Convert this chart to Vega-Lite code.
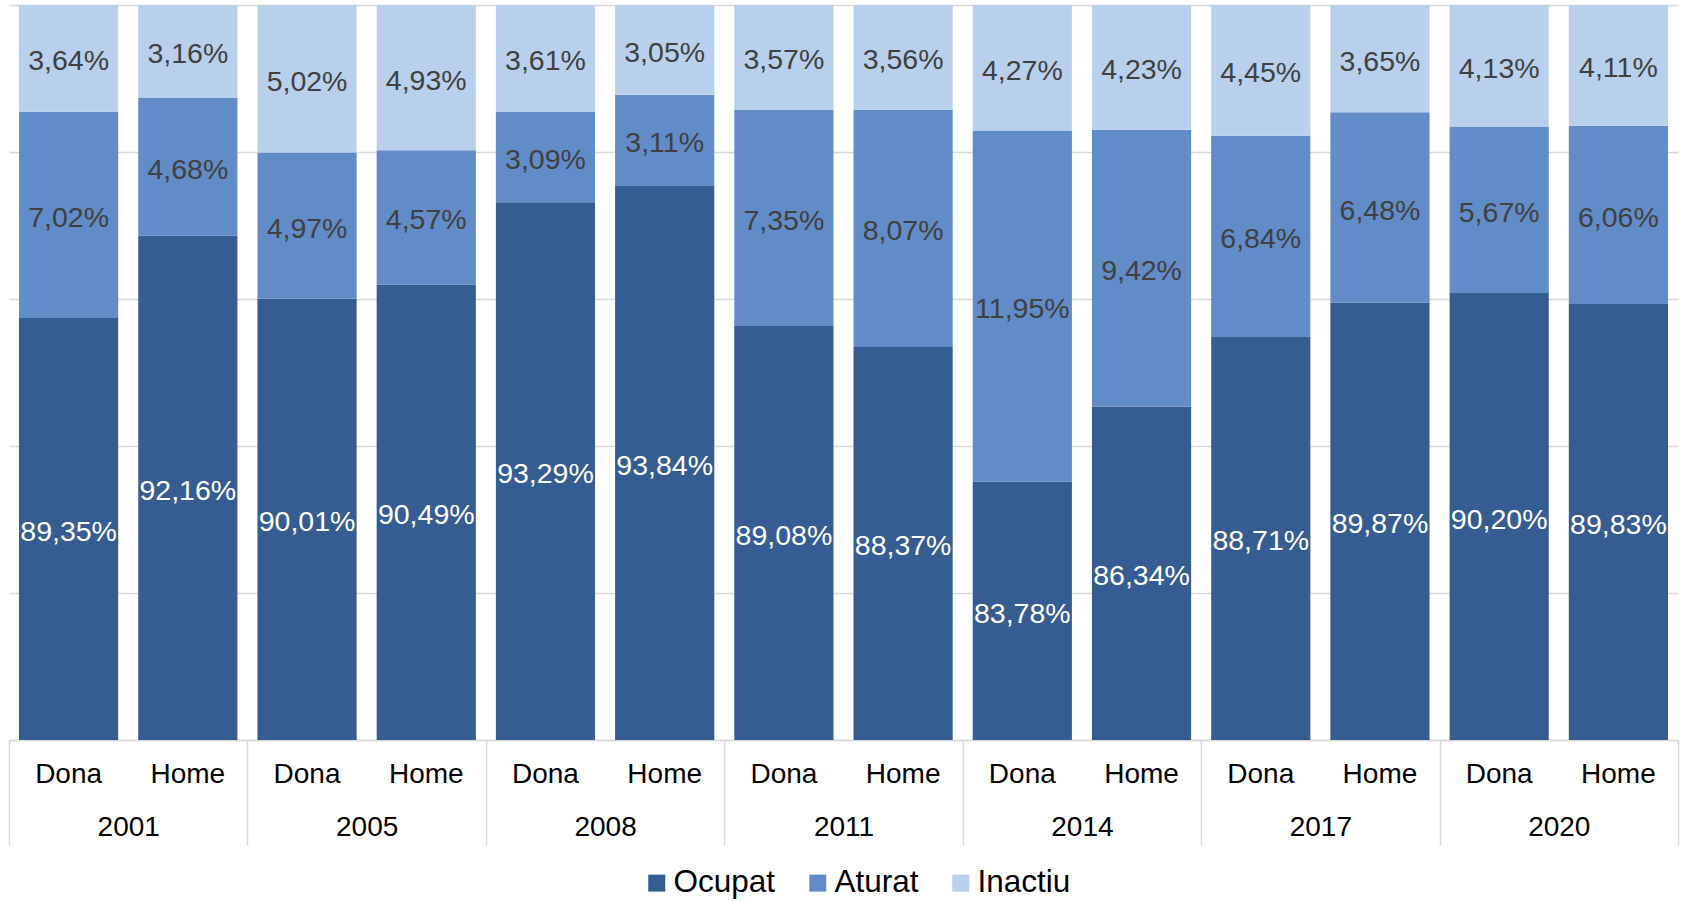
{
  "$schema": "https://vega.github.io/schema/vega-lite/v6.json",
  "width": 1669,
  "height": 735,
  "autosize": {"type": "none"},
  "padding": {"left": 9, "top": 5, "right": 5, "bottom": 161},
  "background": "white",
  "config": {"view": {"stroke": null}, "font": "Liberation Sans"},
  "data": {"values": [
    {"year": "2001", "sex": "Dona", "cat": "Ocupat", "value": 89.35},
    {"year": "2001", "sex": "Dona", "cat": "Aturat", "value": 7.02},
    {"year": "2001", "sex": "Dona", "cat": "Inactiu", "value": 3.64},
    {"year": "2001", "sex": "Home", "cat": "Ocupat", "value": 92.16},
    {"year": "2001", "sex": "Home", "cat": "Aturat", "value": 4.68},
    {"year": "2001", "sex": "Home", "cat": "Inactiu", "value": 3.16},
    {"year": "2005", "sex": "Dona", "cat": "Ocupat", "value": 90.01},
    {"year": "2005", "sex": "Dona", "cat": "Aturat", "value": 4.97},
    {"year": "2005", "sex": "Dona", "cat": "Inactiu", "value": 5.02},
    {"year": "2005", "sex": "Home", "cat": "Ocupat", "value": 90.49},
    {"year": "2005", "sex": "Home", "cat": "Aturat", "value": 4.57},
    {"year": "2005", "sex": "Home", "cat": "Inactiu", "value": 4.93},
    {"year": "2008", "sex": "Dona", "cat": "Ocupat", "value": 93.29},
    {"year": "2008", "sex": "Dona", "cat": "Aturat", "value": 3.09},
    {"year": "2008", "sex": "Dona", "cat": "Inactiu", "value": 3.61},
    {"year": "2008", "sex": "Home", "cat": "Ocupat", "value": 93.84},
    {"year": "2008", "sex": "Home", "cat": "Aturat", "value": 3.11},
    {"year": "2008", "sex": "Home", "cat": "Inactiu", "value": 3.05},
    {"year": "2011", "sex": "Dona", "cat": "Ocupat", "value": 89.08},
    {"year": "2011", "sex": "Dona", "cat": "Aturat", "value": 7.35},
    {"year": "2011", "sex": "Dona", "cat": "Inactiu", "value": 3.57},
    {"year": "2011", "sex": "Home", "cat": "Ocupat", "value": 88.37},
    {"year": "2011", "sex": "Home", "cat": "Aturat", "value": 8.07},
    {"year": "2011", "sex": "Home", "cat": "Inactiu", "value": 3.56},
    {"year": "2014", "sex": "Dona", "cat": "Ocupat", "value": 83.78},
    {"year": "2014", "sex": "Dona", "cat": "Aturat", "value": 11.95},
    {"year": "2014", "sex": "Dona", "cat": "Inactiu", "value": 4.27},
    {"year": "2014", "sex": "Home", "cat": "Ocupat", "value": 86.34},
    {"year": "2014", "sex": "Home", "cat": "Aturat", "value": 9.42},
    {"year": "2014", "sex": "Home", "cat": "Inactiu", "value": 4.23},
    {"year": "2017", "sex": "Dona", "cat": "Ocupat", "value": 88.71},
    {"year": "2017", "sex": "Dona", "cat": "Aturat", "value": 6.84},
    {"year": "2017", "sex": "Dona", "cat": "Inactiu", "value": 4.45},
    {"year": "2017", "sex": "Home", "cat": "Ocupat", "value": 89.87},
    {"year": "2017", "sex": "Home", "cat": "Aturat", "value": 6.48},
    {"year": "2017", "sex": "Home", "cat": "Inactiu", "value": 3.65},
    {"year": "2020", "sex": "Dona", "cat": "Ocupat", "value": 90.20},
    {"year": "2020", "sex": "Dona", "cat": "Aturat", "value": 5.67},
    {"year": "2020", "sex": "Dona", "cat": "Inactiu", "value": 4.13},
    {"year": "2020", "sex": "Home", "cat": "Ocupat", "value": 89.83},
    {"year": "2020", "sex": "Home", "cat": "Aturat", "value": 6.06},
    {"year": "2020", "sex": "Home", "cat": "Inactiu", "value": 4.11}
  ]},
  "transform": [
    {"calculate": "datum.year + ' ' + datum.sex", "as": "key"},
    {"calculate": "indexof(['Ocupat','Aturat','Inactiu'], datum.cat)", "as": "ord"},
    {"stack": "value", "groupby": ["key"], "sort": [{"field": "ord", "order": "ascending"}], "as": ["v0", "v1"]},
    {"calculate": "(max(datum.v0, 75) + datum.v1) / 2", "as": "mid"},
    {"calculate": "replace(format(datum.value, '.2f'), '.', ',') + '%'", "as": "lbl"}
  ],
  "layer": [
    {
      "layer": [
        {
          "mark": {"type": "bar", "clip": true},
          "encoding": {
            "x": {"field": "key", "type": "nominal", "sort": null,
              "scale": {"paddingInner": 0.168, "paddingOuter": 0.084},
              "axis": {"title": null, "labelExpr": "split(datum.label, ' ')[1]", "labelAngle": 0, "ticks": false,
                "domainColor": "#d9d9d9", "domainWidth": 1.5, "labelFontSize": 28, "labelColor": "black",
                "labelPadding": 20, "labelFont": "Liberation Sans"}},
            "y": {"field": "v0", "type": "quantitative",
              "scale": {"domain": [75, 100], "nice": false, "zero": false},
              "axis": {"title": null, "labels": false, "ticks": false, "domain": false, "grid": true,
                "values": [75, 80, 85, 90, 95, 100], "gridColor": "#d9d9d9", "gridWidth": 1.5}},
            "y2": {"field": "v1"},
            "color": {"field": "cat", "type": "nominal",
              "scale": {"domain": ["Ocupat", "Aturat", "Inactiu"], "range": ["#365D92", "#628CC8", "#B9D0EC"]},
              "legend": {"title": null, "orient": "none", "legendX": 632, "legendY": 862, "direction": "horizontal", "symbolType": "square",
                "symbolSize": 289, "symbolStrokeWidth": 0, "labelFontSize": 31.5, "labelColor": "black",
                "labelFont": "Liberation Sans", "columnPadding": 26, "labelOffset": 1}}
          }
        },
        {
          "mark": {"type": "text", "fontSize": 28.5, "font": "Liberation Sans", "dy": 3},
          "encoding": {
            "x": {"field": "key", "type": "nominal", "sort": null},
            "y": {"field": "mid", "type": "quantitative"},
            "text": {"field": "lbl"},
            "color": {"condition": {"test": "datum.cat === 'Ocupat'", "value": "white"}, "value": "#404040"}
          }
        }
      ]
    },
    {
      "mark": {"type": "text"},
      "encoding": {
        "x": {"field": "year", "type": "ordinal",
          "scale": {"paddingInner": 0, "paddingOuter": 0},
          "axis": {"title": null, "orient": "bottom", "labelAngle": 0, "domain": false, "ticks": true,
            "tickBand": "extent", "tickSize": 105, "tickColor": "#d9d9d9", "tickWidth": 1.5,
            "labelFontSize": 28, "labelColor": "black", "labelFont": "Liberation Sans", "labelPadding": -32}},
        "text": {"value": ""}
      }
    }
  ],
  "resolve": {"scale": {"x": "independent"}}
}
